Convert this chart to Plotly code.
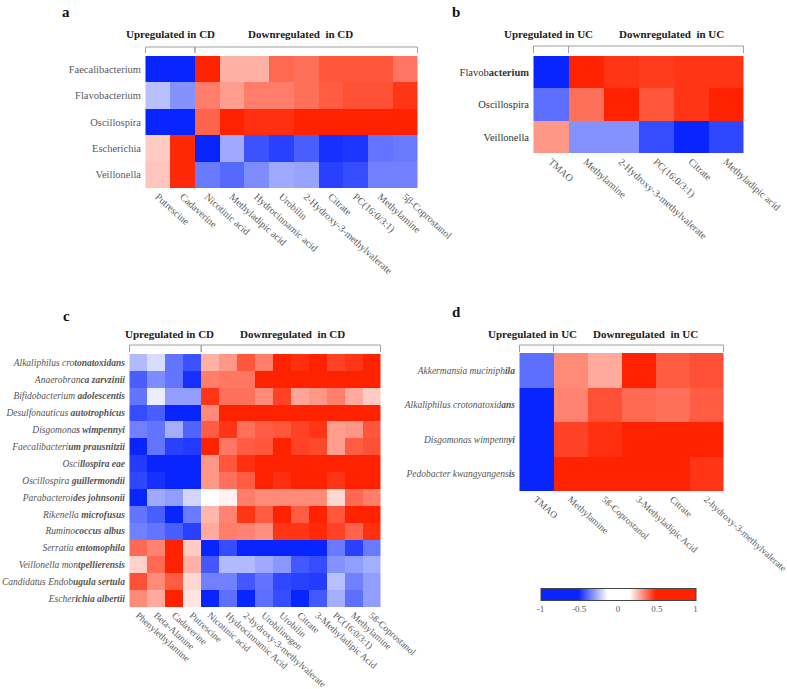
import plotly.graph_objects as go

W, H = 787, 689

# ---- panel a : CD genera ----
a_taxa = ['Faecalibacterium', 'Flavobacterium', 'Oscillospira', 'Escherichia', 'Veillonella']
a_metab = ['Putrescine', 'Cadaverine', 'Nicotinic acid', 'Methyladipic acid', 'Hydrocinnamic acid',
           'Urobilin', '2-Hydroxy-3-methylvalerate', 'Citrate', 'PC(16:0/3:1)', 'Methylamine',
           '5β-Coprostanol']
a_vals = [
    [-0.9, -0.7, 0.8, 0.26, 0.26, 0.37, 0.36, 0.40, 0.40, 0.40, 0.35],
    [-0.25, -0.33, 0.34, 0.29, 0.34, 0.34, 0.36, 0.39, 0.41, 0.41, 0.45],
    [-0.8, -0.8, 0.38, 0.6, 0.46, 0.46, 0.6, 0.6, 0.6, 0.6, 0.6],
    [0.22, 0.47, -0.7, -0.29, -0.44, -0.47, -0.42, -0.5, -0.49, -0.38, -0.37],
    [0.23, 0.47, -0.37, -0.40, -0.34, -0.29, -0.30, -0.47, -0.45, -0.36, -0.36],
]
a_up = 2

# ---- panel b : UC genera ----
b_taxa = ['Flavob<b>acterium</b>', 'Oscillospira', 'Veillonella']
b_metab = ['TMAO', 'Methylamine', '2-Hydroxy-3-methylvalerate', 'PC(16:0/3:1)', 'Citrate',
           'Methyladipic acid']
b_vals = [
    [-0.8, 0.6, 0.45, 0.44, 0.45, 0.45],
    [-0.39, 0.36, 0.6, 0.40, 0.45, 0.5],
    [0.30, -0.33, -0.33, -0.45, -0.55, -0.46],
]
b_up = 1

# ---- panel c : CD species ----
c_taxa = [
    '<i>Alkaliphilus cro<b>tonatoxidans</b></i>',
    '<i>Anaerobran<b>ca zarvzinii</b></i>',
    '<i>Bifidobacterium <b>adolescentis</b></i>',
    '<i>Desulfonauticus <b>autotrophicus</b></i>',
    '<i>Disgomona<b>s wimpennyi</b></i>',
    '<i>Faecalibacteri<b>um prausnitzii</b></i>',
    '<i>Osci<b>llospira eae</b></i>',
    '<i>Oscillospira <b>guillermondii</b></i>',
    '<i>Parabacteroi<b>des johnsonii</b></i>',
    '<i>Rikenella <b>microfusus</b></i>',
    '<i>Rumino<b>coccus albus</b></i>',
    '<i>Serratia <b>entomophila</b></i>',
    '<i>Veillonella mon<b>tpellierensis</b></i>',
    '<i>Candidatus Endob<b>ugula sertula</b></i>',
    '<i>Escher<b>ichia albertii</b></i>',
]
c_metab = ['Phenylethylamine', 'Beta-Alanine', 'Cadaverine', 'Putrescine', 'Nicotinic acid',
           'Hydrocinnamic Acid', '2-hydroxy-3-methylvalerate', 'Urobilinogen', 'Urobilin', 'Citrate',
           '3-Methyladipic Acid', 'PC(16:0/3:1)', 'Methylamine', '5ß-Coprostanol']
c_vals = [
    [-0.26, -0.20, -0.38, -0.44, 0.26, 0.30, 0.40, 0.34, 0.6, 0.46, 0.55, 0.43, 0.45, 0.5],
    [-0.42, -0.34, -0.38, -0.50, 0.34, 0.35, 0.35, 0.6, 0.6, 0.6, 0.6, 0.6, 0.6, 0.6],
    [-0.38, -0.17, -0.31, -0.31, 0.45, 0.36, 0.36, 0.32, 0.43, 0.28, 0.30, 0.34, 0.27, 0.22],
    [-0.45, -0.42, -0.6, -0.6, 0.32, 0.6, 0.6, 0.6, 0.6, 0.6, 0.6, 0.6, 0.6, 0.6],
    [-0.36, -0.38, -0.28, -0.41, 0.39, 0.45, 0.36, 0.39, 0.40, 0.43, 0.45, 0.29, 0.30, 0.40],
    [-0.6, -0.38, -0.47, -0.48, 0.55, 0.35, 0.39, 0.40, 0.55, 0.43, 0.42, 0.29, 0.39, 0.41],
    [-0.48, -0.55, -0.6, -0.6, 0.30, 0.40, 0.46, 0.6, 0.6, 0.6, 0.6, 0.6, 0.6, 0.6],
    [-0.46, -0.50, -0.55, -0.55, 0.30, 0.36, 0.39, 0.6, 0.46, 0.6, 0.6, 0.45, 0.6, 0.6],
    [-0.6, -0.29, -0.31, -0.21, 0.0, 0.16, 0.34, 0.32, 0.32, 0.32, 0.32, 0.20, 0.37, 0.34],
    [-0.38, -0.42, -0.55, -0.37, 0.25, 0.33, 0.45, 0.39, 0.55, 0.39, 0.55, 0.40, 0.6, 0.6],
    [-0.36, -0.38, -0.42, -0.47, 0.27, 0.34, 0.33, 0.31, 0.45, 0.45, 0.47, 0.43, 0.38, 0.46],
    [0.37, 0.33, 0.55, 0.22, -0.6, -0.45, -0.58, -0.55, -0.6, -0.6, -0.6, -0.37, -0.47, -0.37],
    [0.21, 0.37, 0.55, 0.26, -0.43, -0.26, -0.26, -0.29, -0.32, -0.43, -0.45, -0.33, -0.31, -0.28],
    [0.41, 0.32, 0.39, 0.20, -0.36, -0.36, -0.43, -0.38, -0.46, -0.47, -0.48, -0.25, -0.36, -0.31],
    [0.32, 0.27, 0.5, 0.18, -0.58, -0.39, -0.55, -0.39, -0.45, -0.55, -0.43, -0.28, -0.39, -0.31],
]
c_up = 4

# ---- panel d : UC species ----
d_taxa = [
    '<i>Akkermansia muciniph<b>ila</b></i>',
    '<i>Alkaliphilus crotonatoxid<b>ans</b></i>',
    '<i>Disgomonas wimpenn<b>yi</b></i>',
    '<i>Pedobacter kwangyangens<b>is</b></i>',
]
d_metab = ['TMAO', 'Methylamine', '5ß-Coprostanol', '3-Methyladipic Acid', 'Citrate',
           '2-hydroxy-3-methylvalerate']
d_vals = [
    [-0.39, 0.32, 0.27, 0.6, 0.39, 0.41],
    [-0.7, 0.33, 0.41, 0.37, 0.36, 0.39],
    [-0.7, 0.43, 0.46, 0.55, 0.55, 0.6],
    [-0.7, 0.6, 0.6, 0.6, 0.6, 0.45],
]
d_up = 1

cbar_ticks = [-1, -0.5, 0, 0.5, 1]
cbar_text = ['-1', '-0.5', '0', '0.5', '1']

BLUE = 'rgb(8,36,255)'
RED = 'rgb(255,34,0)'
SERIF = 'Liberation Serif'
GREY = '#5a5a5a'


def xd(l, r):
    return [l / W, r / W]


def yd(t, b):
    return [1 - b / H, 1 - t / H]


# pixel boxes, header / bracket heights, panel letters
panels = [
    dict(z=a_vals, x=a_metab, y=a_taxa, up=a_up, xp=(145, 418), yp=(56, 188), hy=34, by=(47, 53),
         hx=(170, 300), letter='a', lp=(66, 12), ys=10.5, xs=10, grp='CD', ycol=GREY),
    dict(z=b_vals, x=b_metab, y=b_taxa, up=b_up, xp=(533, 744), yp=(56, 153), hy=34, by=(46, 53),
         hx=(548, 671), letter='b', lp=(456, 12), ys=10.5, xs=10, grp='UC', ycol='#333'),
    dict(z=c_vals, x=c_metab, y=c_taxa, up=c_up, xp=(129, 381), yp=(354, 607), hy=334, by=(345, 352),
         hx=(169, 292), letter='c', lp=(66, 316), ys=9.5, xs=9.5, grp='CD', ycol='#555'),
    dict(z=d_vals, x=d_metab, y=d_taxa, up=d_up, xp=(519, 724), yp=(353, 491), hy=334, by=(345, 352),
         hx=(532, 645), letter='d', lp=(456, 312), ys=9.5, xs=9.5, grp='UC', ycol='#555'),
]

fig = go.Figure()
annotations = []
shapes = []

for i, p in enumerate(panels):
    n = '' if i == 0 else str(i + 1)
    fig.add_trace(go.Heatmap(z=p['z'], x=p['x'], y=p['y'], coloraxis='coloraxis',
                             xaxis='x' + n, yaxis='y' + n, hoverongaps=False))
    fig.update_layout(**{
        'xaxis' + n: dict(domain=xd(*p['xp']), anchor='y' + n, tickangle=42, showgrid=False,
                          zeroline=False, showline=False, ticks='', automargin=False,
                          tickfont=dict(family=SERIF, size=p['xs'], color=GREY)),
        'yaxis' + n: dict(domain=yd(*p['yp']), anchor='x' + n, autorange='reversed', showgrid=False,
                          zeroline=False, showline=False, ticks='', automargin=False,
                          ticklabelstandoff=3,
                          tickfont=dict(family=SERIF, size=p['ys'], color=p['ycol'])),
    })
    xr = 'x' + n
    ncol = len(p['x'])
    up = p['up']
    top, bot = 1 - p['by'][0] / H, 1 - p['by'][1] / H
    for x0, x1 in [(-0.5, up - 0.5), (up - 0.5, ncol - 0.5)]:
        shapes.append(dict(type='path', xref=xr, yref='paper',
                           path=f'M {x0},{bot} L {x0},{top} L {x1},{top} L {x1},{bot}',
                           line=dict(color='#a0a0a0', width=1)))
    annotations.append(dict(xref='paper', yref='paper', x=p['hx'][0] / W, y=1 - p['hy'] / H,
                            xanchor='center', yanchor='middle',
                            text='<b>Upregulated in ' + p['grp'] + '</b>', showarrow=False,
                            font=dict(family=SERIF, size=11, color='#222')))
    annotations.append(dict(xref='paper', yref='paper', x=p['hx'][1] / W, y=1 - p['hy'] / H,
                            xanchor='center', yanchor='middle',
                            text='<b>Downregulated  in ' + p['grp'] + '</b>', showarrow=False,
                            font=dict(family=SERIF, size=11, color='#222')))
    annotations.append(dict(xref='paper', yref='paper', x=p['lp'][0] / W, y=1 - p['lp'][1] / H,
                            xanchor='center', yanchor='middle',
                            text='<b>' + p['letter'] + '</b>', showarrow=False,
                            font=dict(family=SERIF, size=15, color='#111')))

fig.update_layout(
    width=W, height=H,
    margin=dict(l=0, r=0, t=0, b=0, autoexpand=False),
    paper_bgcolor='white', plot_bgcolor='white',
    showlegend=False,
    annotations=annotations,
    shapes=shapes,
    coloraxis=dict(
        cmin=-1, cmax=1,
        colorscale=[[0, BLUE], [0.24, BLUE], [0.43, 'white'], [0.57, 'white'], [0.74, RED], [1, RED]],
        colorbar=dict(orientation='h', x=618 / W, xanchor='center', y=1 - 600 / H, yanchor='middle',
                      len=155, lenmode='pixels', thickness=12, xpad=0, ypad=0,
                      outlinewidth=1, outlinecolor='#444',
                      tickvals=cbar_ticks, ticktext=cbar_text, ticks='',
                      tickfont=dict(family=SERIF, size=9, color=GREY)),
    ),
)

fig.write_html('out.html', config={'displayModeBar': False},
               post_script="document.body.style.margin='0px';")
